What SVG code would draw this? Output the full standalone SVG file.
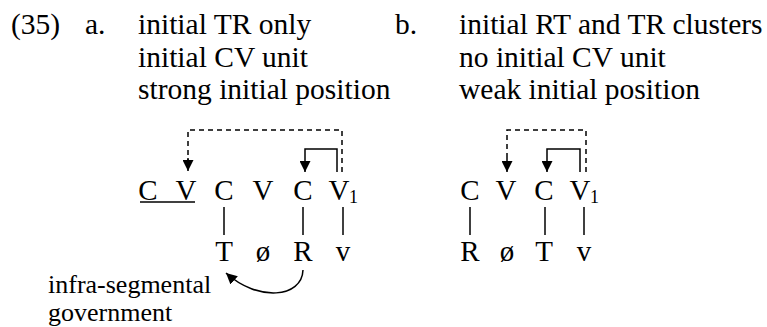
<svg xmlns="http://www.w3.org/2000/svg" width="767" height="327" viewBox="0 0 767 327">
<defs>
<marker id="ah" viewBox="0 0 10 10" refX="10" refY="5" markerWidth="11" markerHeight="11" markerUnits="userSpaceOnUse" orient="auto">
<path d="M0,0 L10,5 L0,10 Z" fill="#000"/>
</marker>
</defs>
<style>
text{font-family:"Liberation Serif","Times New Roman",serif;fill:#000}
.t{font-size:29.5px}
.s{font-size:29px;text-anchor:middle}
.sub{font-size:18px}
.lab{font-size:26px}
.ln{stroke:#000;stroke-width:1.5;fill:none}
.dash{stroke:#000;stroke-width:1.5;fill:none;stroke-dasharray:5,4}
</style>
<rect width="767" height="327" fill="#fff"/>
<g id="header">
<text class="t" x="11" y="34">(35)</text>
<text class="t" x="85" y="34">a.</text>
<text class="t" x="138" y="34">initial TR only</text>
<text class="t" x="138" y="67">initial CV unit</text>
<text class="t" x="138" y="99">strong initial position</text>
<text class="t" x="395" y="34">b.</text>
<text class="t" x="459" y="34">initial RT and TR clusters</text>
<text class="t" x="459" y="67">no initial CV unit</text>
<text class="t" x="459" y="99">weak initial position</text>
</g>
<g id="diagram-a">
<text class="s" x="148" y="200">C</text>
<text class="s" x="186" y="200">V</text>
<text class="s" x="224" y="200">C</text>
<text class="s" x="263" y="200">V</text>
<text class="s" x="303" y="200">C</text>
<text class="s" x="339" y="200">V</text>
<text class="sub" x="349" y="203">1</text>
<line class="ln" x1="140" y1="202" x2="195" y2="202"/>
<text class="s" x="224" y="261">T</text>
<text class="s" x="263" y="261">ø</text>
<text class="s" x="303" y="261">R</text>
<text class="s" x="343" y="261">v</text>
<text class="lab" x="48" y="293">infra-segmental</text>
<text class="lab" x="48" y="321">government</text>
</g>
<g id="diagram-b">
<text class="s" x="470" y="200">C</text>
<text class="s" x="506" y="200">V</text>
<text class="s" x="544" y="200">C</text>
<text class="s" x="580" y="200">V</text>
<text class="sub" x="590" y="203">1</text>
<text class="s" x="470" y="261">R</text>
<text class="s" x="507" y="261">ø</text>
<text class="s" x="544" y="261">T</text>
<text class="s" x="584" y="261">v</text>
</g>
<g id="connectors">
<line class="ln" x1="224" y1="207" x2="224" y2="235"/>
<line class="ln" x1="303" y1="207" x2="303" y2="235"/>
<line class="ln" x1="343" y1="207" x2="343" y2="235"/>
<path class="dash" d="M342,172 V130 H188 V160"/>
<path class="ln" d="M188,158 V171" marker-end="url(#ah)"/>
<path class="ln" d="M337,172 V149 H305 V172" marker-end="url(#ah)"/>
<path class="ln" d="M303,270 C302,298 258,302 226,273" marker-end="url(#ah)"/>
<line class="ln" x1="470" y1="207" x2="470" y2="235"/>
<line class="ln" x1="545" y1="207" x2="545" y2="235"/>
<line class="ln" x1="584" y1="207" x2="584" y2="235"/>
<path class="dash" d="M586,172 V130 H507 V160"/>
<path class="ln" d="M507,158 V172" marker-end="url(#ah)"/>
<path class="ln" d="M580,172 V149 H547 V172" marker-end="url(#ah)"/>
</g>
</svg>
